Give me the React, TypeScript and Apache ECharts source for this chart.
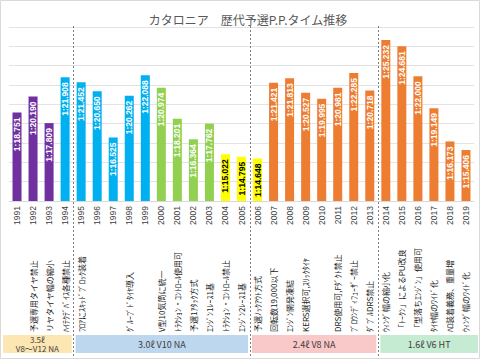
import React, { useEffect, useRef } from "react";
import * as echarts from "echarts";

const years = [
  "1991", "1992", "1993", "1994", "1995", "1996", "1997", "1998", "1999", "2000",
  "2001", "2002", "2003", "2004", "2005", "2006", "2007", "2008", "2009", "2010",
  "2011", "2012", "2013", "2014", "2015", "2016", "2017", "2018", "2019",
];

// pole position lap times in seconds
const poleTimes = [
  78.751, 80.19, 77.809, 81.908, 81.452, 80.65, 76.525, 80.262, 82.088, 80.974,
  78.201, 76.364, 77.762, 75.022, 74.795, 74.648, 81.421, 81.813, 80.527, 79.995,
  80.981, 82.285, 80.718, 85.232, 84.681, 82.0, 79.149, 76.173, 75.406,
];

const rules = [
  "", "予選専用タイヤ禁止", "リヤタイヤ幅の縮小", "ﾊｲﾃｸﾃﾞﾊﾞｲｽ各種禁止", "ﾌﾛｱにｽｷｯﾄﾞﾌﾞﾛｯｸ装着",
  "", "", "ｸﾞﾙｰﾌﾞﾄﾞﾀｲﾔ導入", "", "V型10気筒に統一",
  "ﾄﾗｸｼｮﾝ・ｺﾝﾄﾛｰﾙ使用可", "予選1ｱﾀｯｸ方式", "ｴﾝｼﾞﾝ1ﾚｰｽ1基", "ﾄﾗｸｼｮﾝ・ｺﾝﾄﾛｰﾙ禁止", "ｴﾝｼﾞﾝ2ﾚｰｽ1基",
  "予選ﾉｯｸｱｳﾄ方式", "回転数19,000以下", "ｴﾝｼﾞﾝ開発凍結", "KERS選択可,ｽﾘｯｸﾀｲﾔ", "",
  "DRS使用可,Fﾀﾞｸﾄ禁止", "ﾌﾞﾛｳﾝﾃﾞｨﾌｭｰｻﾞｰ禁止", "ﾀﾞﾌﾞﾙDRS禁止", "ｳｨﾝｸﾞ幅の縮小化", "「ﾄｰｸﾝ」によるPU改良",
  "「型落ちｴﾝｼﾞﾝ」使用可", "ﾀｲﾔ幅のﾜｲﾄﾞ化", "ﾊﾛ装着義務、重量増", "ｳｨﾝｸﾞ幅のﾜｲﾄﾞ化",
];

const eraLabels = [["3.5ℓ", "V8〜V12 NA"], ["3.0ℓ V10 NA"], ["2.4ℓ V8 NA"], ["1.6ℓ V6 HT"]];
const eraFirstYears = ["1991", "1995", "2006", "2014"];
const eraLastYears = ["1994", "2005", "2013", "2019"];

const TITLE = "カタロニア　歴代予選P.P.タイム推移";

const FONT = '"Noto Sans CJK JP", "Noto Sans", sans-serif';

function barColor(year: number): string {
  if (year <= 1993) return "#7030A0";
  if (year <= 1999) return "#00B0F0";
  if (year <= 2003) return "#92D050";
  if (year <= 2006) return "#FFFF00";
  return "#ED7D31";
}

function fmtTime(v: number): string {
  const m = Math.floor(v / 60);
  const s = v - m * 60;
  const str = s.toFixed(3);
  return m + ":" + (s < 10 ? "0" + str : str);
}

const eraColors = ["#FCE6B2", "#BDD7EE", "#F9C8C8", "#C6EBD3"];

export default function App() {
  const ref = useRef<HTMLDivElement>(null);

  useEffect(() => {
    if (!ref.current) return;
    const chart = echarts.init(ref.current, undefined, { renderer: "svg" });
    const option: any = {
      animation: false,
      grid: { left: 9, right: 6, top: 27, bottom: 158, containLabel: false },
      xAxis: [
        {
          type: "category",
          data: years,
          axisLine: { show: true, lineStyle: { color: "#D9D9D9" } },
          axisTick: { show: false },
          axisLabel: {
            interval: 0,
            rotate: 90,
            margin: 5,
            fontSize: 8.5,
            color: "#404040",
            fontFamily: '"Liberation Sans", sans-serif',
          },
        },
        {
          type: "category",
          data: years,
          position: "bottom",
          axisLine: { show: false },
          axisTick: { show: false },
          axisLabel: {
            interval: 0,
            rotate: 90,
            align: "left",
            verticalAlign: "middle",
            margin: 131,
            fontSize: 8,
            color: "#1a1a1a",
            fontFamily: FONT,
            formatter: (_v: string, i: number) => rules[i],
          },
        },
      ],
      yAxis: {
        type: "value",
        min: 70.848,
        max: 86.4,
        interval: 1.728,
        axisLabel: { show: false },
        axisLine: { show: false },
        axisTick: { show: false },
        splitLine: { lineStyle: { color: "#E3E3E3", width: 1 } },
      },
      series: [
        {
          type: "bar",
          xAxisIndex: 0,
          barWidth: 9,
          data: poleTimes.map((v, i) => ({
            value: v,
            itemStyle: { color: barColor(Number(years[i])) },
            label: { color: Number(years[i]) >= 2004 && Number(years[i]) <= 2006 ? "#000" : "#fff" },
          })),
          label: {
            show: true,
            position: "insideTop",
            rotate: 90,
            align: "right",
            verticalAlign: "middle",
            distance: 5,
            fontSize: 8.5,
            fontWeight: "bold",
            fontFamily: '"Liberation Sans", sans-serif',
            formatter: (p: any) => fmtTime(p.value),
          },
        },
      ],
    };
    chart.setOption(option);

    const px = (y: string) => chart.convertToPixel({ xAxisIndex: 0 }, y) as number;
    const seps: number[] = [];
    for (let k = 1; k < eraFirstYears.length; k++) {
      seps.push((px(eraLastYears[k - 1]) + px(eraFirstYears[k])) / 2);
    }
    const graphics: any[] = [
      {
        type: "rect",
        shape: { x: 0.5, y: 0.5, width: 479, height: 358 },
        style: { fill: "none", stroke: "#D9D9D9", lineWidth: 1 },
        silent: true,
      },
      {
        type: "text",
        x: 248,
        y: 19,
        style: {
          text: TITLE,
          fontSize: 12,
          fontFamily: FONT,
          fill: "#595959",
          align: "center",
          verticalAlign: "middle",
        },
      },
    ];
    const bounds = [3, ...seps, 478];
    for (let k = 0; k < eraLabels.length; k++) {
      const x0 = k === 0 ? bounds[k] : bounds[k] + 2.5;
      const x1 = k === eraLabels.length - 1 ? bounds[k + 1] : bounds[k + 1] - 1.5;
      graphics.push({
        type: "rect",
        shape: { x: x0, y: 335, width: x1 - x0, height: 18 },
        style: { fill: eraColors[k] },
        z: 1,
      });
      const lines = eraLabels[k];
      lines.forEach((t, j) => {
        const yc = lines.length === 1 ? 344 : j === 0 ? 339 : 348.5;
        graphics.push({
          type: "text",
          x: (x0 + x1) / 2,
          y: yc,
          style: {
            text: t,
            fontSize: lines.length === 1 ? 9 : 8,
            fontFamily: FONT,
            fill: "#404040",
            align: "center",
            verticalAlign: "middle",
          },
          z: 2,
        });
      });
    }
    seps.forEach((x) => {
      graphics.push({
        type: "line",
        shape: { x1: Math.round(x) + 0.5, y1: 26, x2: Math.round(x) + 0.5, y2: 357 },
        style: { stroke: "#7F7F7F", lineWidth: 1, lineDash: [2, 2] },
        z: 3,
      });
    });
    chart.setOption({ graphic: graphics });

    return () => chart.dispose();
  }, []);

  return (
    <div
      ref={ref}
      style={{ position: "fixed", left: 0, top: 0, width: 480, height: 359, background: "#fff" }}
    />
  );
}
